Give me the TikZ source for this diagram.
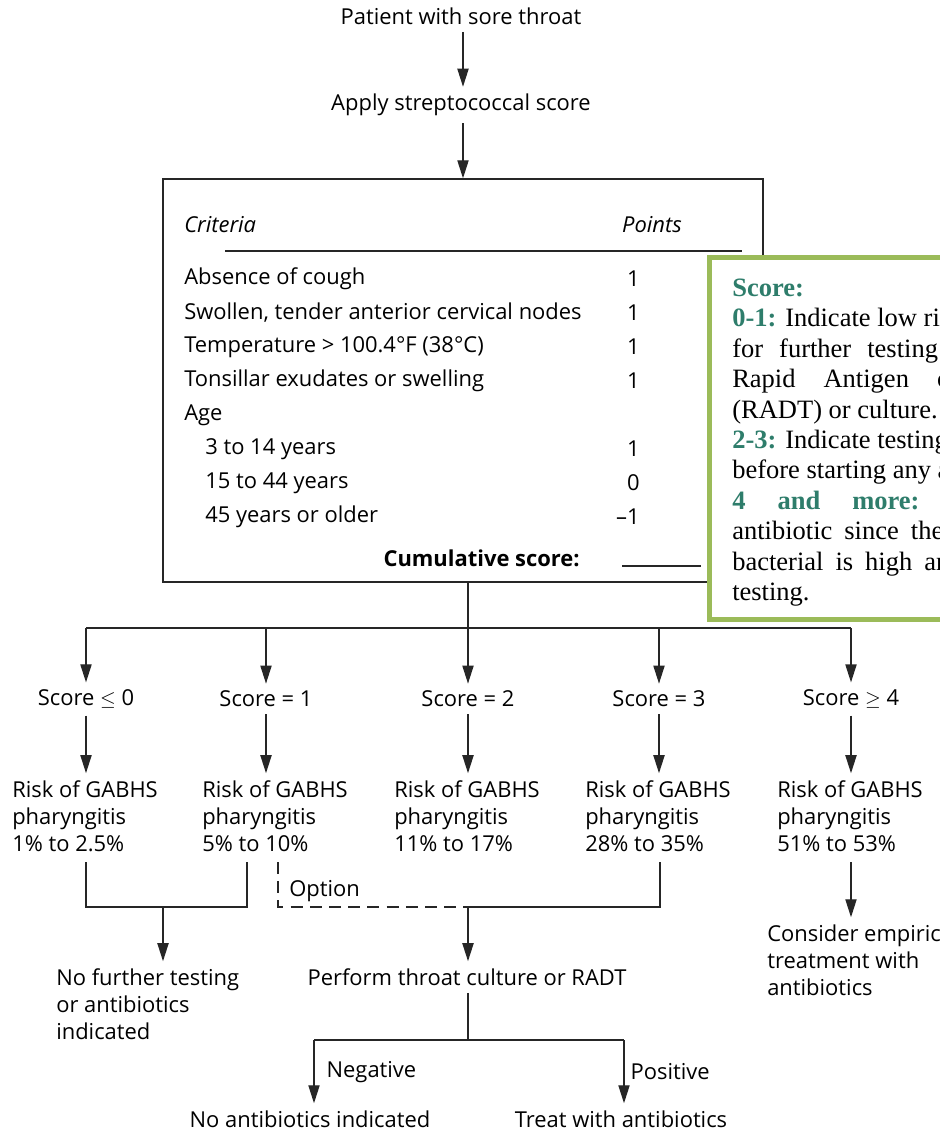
\documentclass[tikz,border=0pt]{standalone}
\usepackage{fontspec}
\setmainfont{Open Sans}
\newfontfamily\notefont{Liberation Serif}
\usetikzlibrary{arrows.meta}
\definecolor{notegreen}{HTML}{9BBB59}
\definecolor{noteteal}{HTML}{2E7D6B}
\newdimen\pxu \pxu=0.025cm
\newcommand\wgap[1]{\hspace*{#1\pxu}}
\newcommand\scorelbl[1]{\textbf{\color{noteteal}#1}}
\tikzset{
  flow/.style={line width=0.9pt, draw=black!85},
  arr/.style={flow, -{Triangle[length=0.45cm,width=0.28cm]}},
  txt/.style={inner xsep=0pt, inner ysep=5pt, font=\fontsize{15.6}{19.2}\selectfont},
  multi/.style={txt, align=left, anchor=west},
  row/.style={txt, anchor=west},
  pts/.style={txt, anchor=east},
  noteline/.style={inner sep=0pt, anchor=base west, font=\notefont\fontsize{18.85}{22}\selectfont},
}

\begin{document}
\begin{tikzpicture}[x=0.025cm, y=-0.025cm]
\useasboundingbox (0,0) rectangle (940,1133);
\clip (0,0) rectangle (940,1133);

% start and score table
\node[txt] (patient) at (461,16) {Patient with sore throat};
\node[txt] (apply) at (461,105) {Apply streptococcal score};
\node[flow, draw, minimum width=15cm, minimum height=10.075cm] (scorebox) at (463,380.5) {};
\draw[arr] (patient.south -| scorebox.north) -- (apply.north -| scorebox.north);
\draw[arr] (apply.south -| scorebox.north) -- (scorebox.north);

\node[row] (crit) at (184,225) {\itshape Criteria};
\node[pts] (points) at (682,225) {\itshape Points};
\draw[flow] (225,251) -- (742,251);
\foreach \y/\xl/\crit/\pt [count=\i] in {279/184/Absence of cough/1,
    313/184/{Swollen, tender anterior cervical nodes}/1,
    347/184/{Temperature > 100.4°F (38°C)}/1,
    381/184/Tonsillar exudates or swelling/1,
    449/205/3 to 14 years/1, 483/205/15 to 44 years/0,
    517/205/45 years or older/–1}
  {\node[row] (crit\i) at (\xl,\y) {\crit};
   \node[pts] (pt\i) at (640,\y) {\pt};}
\node[row] (age) at (184,415) {Age};
\node[pts] (cum) at (580,558) {\bfseries Cumulative score:};
\coordinate (blankL) at (622,566);
\coordinate (blankR) at (701,566);
\draw[flow] (blankL) -- (blankR);

% legend box (runs off the right edge)
\filldraw[draw=notegreen, fill=white, line width=0.1125cm] (709.5,257.5) rectangle (1000,619.5);
\foreach \txt [count=\i from 0] in {\scorelbl{Score:},
    {\scorelbl{0-1:} Indicate low risk},
    {for\wgap{16}further\wgap{16}testing},
    {Rapid\wgap{28}Antigen\wgap{28}c},
    {(RADT) or culture.},
    {\scorelbl{2-3:} Indicate testing},
    {before starting any a},
    {\scorelbl{4}\wgap{32}\scorelbl{and}\wgap{32}\scorelbl{more:}},
    {antibiotic\wgap{12}since\wgap{12}the},
    {bacterial\wgap{12}is\wgap{12}high\wgap{12}and},
    {testing.}}
  {\node[noteline] (note\i) at (732,{296.5+30.4*\i}) {\txt};}

% score branches
\coordinate (split) at (468,628);
\draw[flow] (scorebox.south -| split) -- (split);
\foreach \x/\lbl [count=\i from 0] in {86/{Score $\leq$ 0}, 266/Score = 1,
    468/Score = 2, 659/Score = 3, 851/{Score $\geq$ 4}}
  {\node[txt] (s\i) at (\x,699) {\lbl};
   \draw[arr] (s\i |- split) -- (s\i);}
\draw[flow] (s0 |- split) -- (s4 |- split);

\foreach \x/\lo/\hi [count=\i from 0] in {12/1\%/2.5\%, 202/5\%/10\%,
    394/11\%/17\%, 585/28\%/35\%, 777/51\%/53\%}
  {\node[multi] (r\i) at (\x,816) {Risk of GABHS\\pharyngitis\\\lo{} to \hi};
   \draw[arr] (s\i) -- (s\i |- r\i.north);}

% merging below the risks
\coordinate (leftA) at (86,862);
\coordinate (leftB) at (247,862);
\coordinate (optA) at (278,862);
\coordinate (rightA) at (660,862);
\coordinate (farA) at (851,862);
\coordinate (joinL) at (163,907);
\coordinate (joinC) at (468,907);
\draw[flow] (leftA) |- (joinL) -| (leftB);
\draw[flow, dash pattern=on 0.3cm off 0.18cm] (optA) |- (joinC);
\draw[flow] (joinC) -| (rightA);
\node[row] (option) at (289,891) {Option};

\node[multi] (nofurther) at (56,1004) {No further testing\\or antibiotics\\indicated};
\node[txt] (perform) at (467,977) {Perform throat culture or RADT};
\node[multi] (consider) at (767,960) {Consider empiric\\treatment with\\antibiotics};
\draw[arr] (joinL) -- (joinL |- nofurther.north);
\draw[arr] (joinC) -- (joinC |- perform.north);
\draw[arr] (farA) -- (farA |- consider.north);

% test result
\coordinate (testsplit) at (468,1040);
\coordinate (negc) at (314,1040);
\coordinate (posc) at (624,1040);
\node[txt] (noab) at (310,1119) {No antibiotics indicated};
\node[txt] (treat) at (621,1119) {Treat with antibiotics};
\draw[flow] (perform.south -| testsplit) -- (testsplit);
\draw[flow] (negc) -- (posc);
\draw[arr] (negc) -- (negc |- noab.north) node[row, pos=0.5, xshift=0.3cm] (neg) {Negative};
\draw[arr] (posc) -- (posc |- treat.north) node[row, pos=0.5, xshift=0.15cm] (pos) {Positive};
\end{tikzpicture}
\end{document}
